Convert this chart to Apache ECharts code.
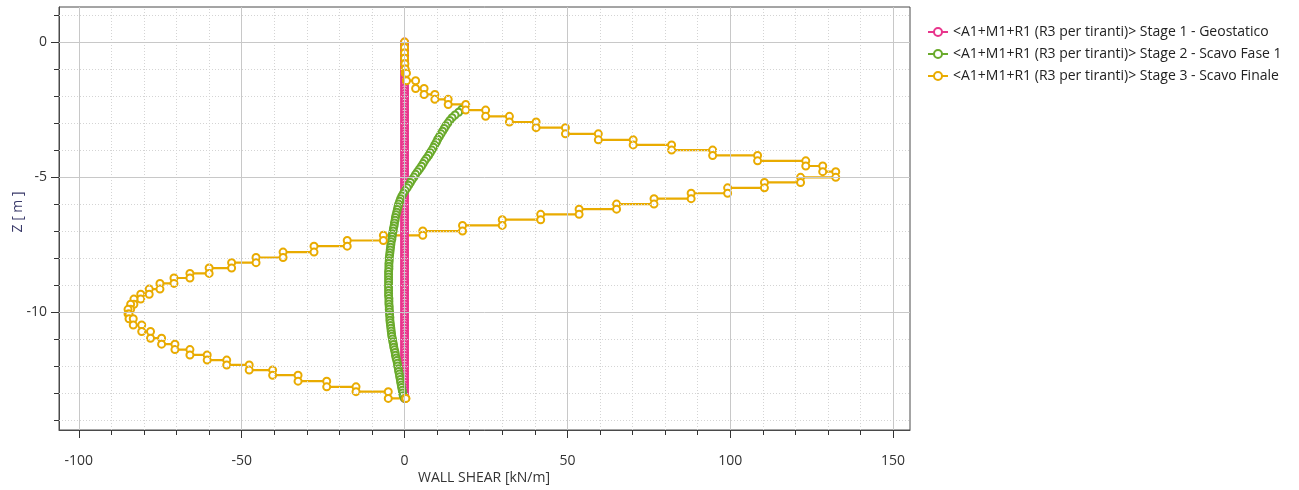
<!DOCTYPE html>
<html>
<head>
<meta charset="utf-8">
<script src="https://cdn.jsdelivr.net/npm/echarts@6/dist/echarts.min.js"></script>
<style>
html,body{margin:0;padding:0;background:#fff;}
#chart{width:1299px;height:490px;}
</style>
</head>
<body>
<div id="chart"></div>
<script>
// ---- DATA ----
const seriesNames = [
  '<A1+M1+R1 (R3 per tiranti)> Stage 1 - Geostatico',
  '<A1+M1+R1 (R3 per tiranti)> Stage 2 - Scavo Fase 1',
  '<A1+M1+R1 (R3 per tiranti)> Stage 3 - Scavo Finale'
];
const xAxisTitle = 'WALL SHEAR [kN/m]';
const yAxisTitle = 'Z [ m ]';
const xMajorTicks = [-100, -50, 0, 50, 100, 150];
const xMinorTicks = [-100,-90,-80,-70,-60,-50,-40,-30,-20,-10,0,10,20,30,40,50,60,70,80,90,100,110,120,130,140,150];
const yMajorTicks = [0, -5, -10];
const yMinorTicks = [1,0,-1,-2,-3,-4,-5,-6,-7,-8,-9,-10,-11,-12,-13,-14];

// wall node depths (m)
const wallDepth = [0,-0.1,-0.2,-0.3,-0.4,-0.5,-0.6,-0.7,-0.8,-0.9,-1,-1.1,-1.2,-1.3,-1.4,-1.5,-1.6,-1.7,-1.8,-1.9,-2,-2.1,-2.2,-2.3,-2.4,-2.5,-2.6,-2.7,-2.8,-2.9,-3,-3.1,-3.2,-3.3,-3.4,-3.5,-3.6,-3.7,-3.8,-3.9,-4,-4.1,-4.2,-4.3,-4.4,-4.5,-4.6,-4.7,-4.8,-4.9,-5,-5.1,-5.2,-5.3,-5.4,-5.5,-5.6,-5.7,-5.8,-5.9,-6,-6.1,-6.2,-6.3,-6.4,-6.5,-6.6,-6.7,-6.8,-6.9,-7,-7.1,-7.2,-7.3,-7.4,-7.5,-7.6,-7.7,-7.8,-7.9,-8,-8.1,-8.2,-8.3,-8.4,-8.5,-8.6,-8.7,-8.8,-8.9,-9,-9.1,-9.2,-9.3,-9.4,-9.5,-9.6,-9.7,-9.8,-9.9,-10,-10.1,-10.2,-10.3,-10.4,-10.5,-10.6,-10.7,-10.8,-10.9,-11,-11.1,-11.2,-11.3,-11.4,-11.5,-11.6,-11.7,-11.8,-11.9,-12,-12.1,-12.2,-12.3,-12.4,-12.5,-12.6,-12.7,-12.8,-12.9,-13,-13.1,-13.2];

// Stage 1: shear along the wall (kN/m), one per wall node
const stage1Shear = [0,0,0,0,0,0,0,0,0,0,0,0,0,0,0,0,0,0,0,0,0,0,0,0,0,0,0,0,0,0,0,0,0,0,0,0,0,0,0,0,0,0,0,0,0,0,0,0,0,0,0,0,0,0,0,0,0,0,0,0,0,0,0,0,0,0,0,0,0,0,0,0,0,0,0,0,0,0,0,0,0,0,0,0,0,0,0,0,0,0,0,0,0,0,0,0,0,0,0,0,0,0,0,0,0,0,0,0,0,0,0,0,0,0,0,0,0,0,0,0,0,0,0,0,0,0,0,0,0,0,0,0,0];

// Stage 2: shear from node at -2.5 m down to -13.2 m
const stage2StartIndex = 25;
const stage2Shear = [17.5,16.6,15.5,14.6,13.9,13.3,12.7,12.2,11.7,11.2,
  10.7,10.2,9.8,9.3,8.9,8.4,7.9,7.4,6.8,6.2,
  5.7,5.2,4.6,4.0,3.4,2.9,2.3,1.8,1.3,0.8,
  0.2,-0.3,-0.8,-1.2,-1.5,-1.8,-2.0,-2.2,-2.4,-2.6,
  -2.8,-2.9,-3.1,-3.2,-3.4,-3.5,-3.7,-3.8,-3.9,-4.1,
  -4.2,-4.3,-4.4,-4.5,-4.6,-4.7,-4.7,-4.8,-4.8,-4.8,
  -4.9,-4.9,-4.9,-4.9,-4.9,-4.9,-4.9,-4.9,-4.9,-4.9,
  -4.8,-4.8,-4.8,-4.7,-4.7,-4.6,-4.6,-4.5,-4.5,-4.4,
  -4.3,-4.2,-4.1,-4.0,-3.9,-3.7,-3.6,-3.4,-3.3,-3.1,
  -2.9,-2.8,-2.6,-2.4,-2.2,-2.1,-1.9,-1.8,-1.6,-1.5,
  -1.3,-1.2,-1.0,-0.9,-0.7,-0.6,-0.4,0.0];

// Stage 3: element boundaries (m) and element shear (kN/m)
const stage3Depth = [0,-0.2,-0.4,-0.6,-0.8,-1.0,-1.15,
  -1.43,-1.72,-1.94,-2.12,-2.31,-2.52,-2.75,-2.96,-3.17,-3.40,-3.62,-3.81,-4.00,-4.20,-4.40,-4.59,-4.80,
  -5.01,-5.20,-5.40,-5.60,-5.80,-6.00,-6.19,-6.38,-6.58,-6.79,-7.00,-7.16,
  -7.35,-7.56,-7.78,-7.98,-8.17,-8.37,-8.57,-8.74,-8.94,-9.15,-9.34,-9.52,-9.71,-9.90,
  -10.07,-10.25,-10.48,-10.72,-10.97,-11.19,-11.39,-11.59,-11.78,-11.96,-12.15,-12.34,-12.56,-12.77,-12.95,
  -13.2,-13.2];
const stage3Shear = [0,0,0,0,0.1,0.2,
  0.6,3.4,6.0,9.3,13.4,18.8,24.9,32.2,40.4,49.4,
  59.5,70.2,82.0,94.6,108.4,123.2,128.4,132.4,
  121.6,110.5,99.2,88.0,76.6,65.1,53.6,41.8,30.0,17.8,5.6,-6.5,
  -17.6,-27.8,-37.3,-45.6,-53.1,-60.0,-65.9,-70.8,-75.1,-78.4,-81.0,-83.1,-84.1,-84.9,
  -84.6,-83.3,-80.7,-78.0,-74.6,-70.5,-65.9,-60.6,-54.6,-47.7,-40.5,-32.7,
  -23.9,-14.9,-5.0,
  0.4];

const colors = ['#e8358c', '#6aaa2c', '#e9ab00'];

// ---- BUILD ----
const s1 = wallDepth.map((z, i) => [stage1Shear[i], z]);
const s2 = stage2Shear.map((v, i) => [v, wallDepth[stage2StartIndex + i]]);
const s3 = [];
stage3Shear.forEach((v, k) => { s3.push([v, stage3Depth[k]]); s3.push([v, stage3Depth[k + 1]]); });

const X_MIN = -106.1, X_MAX = 155.2, Y_MIN = -14.37, Y_MAX = 1.3;
const fontFam = 'Open Sans, Noto Sans, DejaVu Sans, sans-serif';

function mkSeries(name, data, color) {
  return {
    name: name, type: 'line', data: data,
    xAxisIndex: 0, yAxisIndex: 0,
    showSymbol: true, showAllSymbol: true,
    symbol: 'emptyCircle', symbolSize: 7,
    lineStyle: { color: color, width: 2.2 },
    itemStyle: { color: color, borderColor: color, borderWidth: 2 },
    emphasis: { disabled: true },
    animation: false
  };
}

const chart = echarts.init(document.getElementById('chart'), null, { renderer: 'canvas' });
chart.setOption({
  animation: false,
  backgroundColor: '#ffffff',
  color: colors,
  grid: { left: 59, right: 389, top: 7, bottom: 60, show: true, borderColor: '#4a4a4a', borderWidth: 1,
          containLabel: false, outerBoundsMode: 'none' },
  legend: {
    orient: 'vertical', left: 922, top: 20, itemGap: 8,
    itemWidth: 20, itemHeight: 10,
    textStyle: { fontSize: 14, color: '#222', fontFamily: fontFam },
    data: seriesNames
  },
  graphic: [
    { type: 'text', left: 'center', x: 0, style: { text: '' } },
    { type: 'text', x: 484, y: 478, style: { text: xAxisTitle, fontSize: 14, fontFamily: fontFam, fill: '#333', align: 'center', verticalAlign: 'middle' } },
    { type: 'text', x: 18, y: 212, rotation: Math.PI / 2, style: { text: yAxisTitle, fontSize: 14, fontFamily: fontFam, fill: '#3a3a6a', align: 'center', verticalAlign: 'middle' } }
  ],
  xAxis: [
    {
      type: 'value', min: X_MIN, max: X_MAX, position: 'bottom',
      axisLine: { show: true, onZero: false, lineStyle: { color: '#4a4a4a' } },
      axisTick: { show: true, length: 8, customValues: xMajorTicks, lineStyle: { color: '#333' } },
      axisLabel: { show: true, customValues: xMajorTicks, margin: 24, fontSize: 14, color: '#333', fontFamily: fontFam },
      splitLine: { show: false }
    },
    {
      type: 'value', min: X_MIN, max: X_MAX, position: 'bottom',
      axisLine: { show: false, onZero: false },
      axisTick: { show: true, length: 5, customValues: xMinorTicks, lineStyle: { color: '#333' } },
      axisLabel: { show: false },
      splitLine: { show: false }
    }
  ],
  yAxis: [
    {
      type: 'value', min: Y_MIN, max: Y_MAX, position: 'left',
      axisLine: { show: true, onZero: false, lineStyle: { color: '#4a4a4a' } },
      axisTick: { show: true, length: 8, customValues: yMajorTicks, lineStyle: { color: '#333' } },
      axisLabel: { show: true, customValues: yMajorTicks, margin: 12, fontSize: 14, color: '#333', fontFamily: fontFam },
      splitLine: { show: false }
    },
    {
      type: 'value', min: Y_MIN, max: Y_MAX, position: 'left',
      axisLine: { show: false, onZero: false },
      axisTick: { show: true, length: 5, customValues: yMinorTicks, lineStyle: { color: '#333' } },
      axisLabel: { show: false },
      splitLine: { show: false }
    }
  ],
  series: [
    {
      type: 'line', data: [], silent: true, xAxisIndex: 0, yAxisIndex: 0,
      markLine: {
        silent: true, symbol: 'none', label: { show: false }, animation: false,
        lineStyle: { color: '#d4d4d4', type: [1, 2], width: 1 },
        data: xMinorTicks.filter(v => xMajorTicks.indexOf(v) < 0).map(v => ({ xAxis: v }))
          .concat(yMinorTicks.filter(v => yMajorTicks.indexOf(v) < 0).map(v => ({ yAxis: v })))
      }
    },
    {
      type: 'line', data: [], silent: true, xAxisIndex: 0, yAxisIndex: 0,
      markLine: {
        silent: true, symbol: 'none', label: { show: false }, animation: false,
        lineStyle: { color: '#c8c8c8', type: 'solid', width: 1 },
        data: xMajorTicks.map(v => ({ xAxis: v })).concat(yMajorTicks.map(v => ({ yAxis: v })))
      }
    },
    mkSeries(seriesNames[0], s1, colors[0]),
    mkSeries(seriesNames[1], s2, colors[1]),
    mkSeries(seriesNames[2], s3, colors[2])
  ]
});
</script>
</body>
</html>
